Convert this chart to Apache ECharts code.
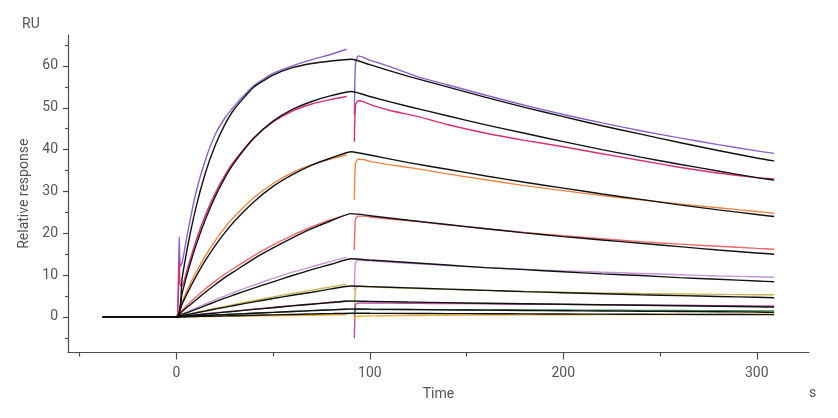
<!DOCTYPE html>
<html lang="en">
<head>
    <meta charset="UTF-8">
    <title>Sensorgram</title>
    <script src="https://cdn.jsdelivr.net/npm/echarts@6/dist/echarts.min.js"></script>
    <style type="text/css">
        html, body { margin: 0; padding: 0; background: #fff; }
        #chart { width: 838px; height: 418px; }
    </style>
</head>
<body>
<div id="chart"></div>
<script type="text/javascript">
    // time points (s)
    var tFit = [-38, 0, 3, 6, 10, 15, 20, 25, 30, 40, 50, 60, 70, 80, 90.5, 100, 120, 140, 160, 180, 200, 220, 240, 260, 280, 300, 309];
    var tAsso = [-38, 0, 1, 1.5, 2, 3, 6, 10, 15, 20, 25, 30, 40, 50, 60, 70, 80, 88];
    var tDiss = [92, 92.6, 94, 97, 100, 110, 125, 140, 160, 180, 200, 220, 240, 260, 280, 300, 309];

    // fitted curves (black), RU
    var fit1 = [0, 0, 9.3, 17.2, 25.9, 34.4, 40.9, 45.9, 49.7, 54.9, 57.8, 59.6, 60.6, 61.2, 61.6, 60.3, 57.5, 55.0, 52.5, 50.1, 47.9, 45.7, 43.7, 41.7, 39.8, 38.0, 37.3];
    var fit2 = [0, 0, 5.7, 10.9, 16.9, 23.3, 28.7, 33.2, 36.9, 42.7, 46.8, 49.6, 51.5, 52.9, 53.9, 52.7, 50.3, 48.1, 45.9, 43.9, 41.9, 40.0, 38.2, 36.5, 34.9, 33.3, 32.7];
    var fit3 = [0, 0, 3.1, 6.0, 9.5, 13.5, 17.0, 20.1, 22.9, 27.5, 31.2, 34.0, 36.3, 38.0, 39.5, 38.7, 36.9, 35.3, 33.7, 32.2, 30.8, 29.4, 28.1, 26.8, 25.6, 24.5, 24.0];
    var fit4 = [0, 0, 1.3, 2.5, 4.0, 5.9, 7.7, 9.4, 10.9, 13.9, 16.5, 18.9, 21.1, 23.0, 24.7, 24.2, 23.1, 22.1, 21.1, 20.1, 19.2, 18.4, 17.6, 16.8, 16.0, 15.3, 15.0];
    var fit5 = [0, 0, 0.6, 1.1, 1.8, 2.7, 3.6, 4.5, 5.3, 6.9, 8.4, 9.9, 11.3, 12.6, 13.9, 13.6, 13.0, 12.4, 11.8, 11.3, 10.8, 10.3, 9.9, 9.4, 9.0, 8.6, 8.4];
    var fit6 = [0, 0, 0.3, 0.6, 0.95, 1.4, 1.9, 2.3, 2.75, 3.6, 4.4, 5.2, 5.9, 6.7, 7.4, 7.25, 6.95, 6.65, 6.35, 6.05, 5.8, 5.55, 5.3, 5.1, 4.9, 4.7, 4.6];
    var fit7 = [0, 0, 0.15, 0.3, 0.45, 0.7, 0.9, 1.15, 1.35, 1.8, 2.2, 2.65, 3.05, 3.45, 3.8, 3.72, 3.56, 3.42, 3.28, 3.15, 3.02, 2.9, 2.78, 2.66, 2.54, 2.42, 2.36];
    var fit8 = [0, 0, 0.07, 0.14, 0.23, 0.34, 0.45, 0.56, 0.67, 0.88, 1.09, 1.3, 1.5, 1.7, 1.9, 1.86, 1.78, 1.7, 1.62, 1.55, 1.48, 1.42, 1.35, 1.29, 1.23, 1.17, 1.1];
    var fit9 = [0, 0, 0.03, 0.06, 0.1, 0.15, 0.2, 0.25, 0.3, 0.4, 0.5, 0.6, 0.7, 0.8, 0.9, 0.88, 0.84, 0.8, 0.77, 0.73, 0.7, 0.67, 0.64, 0.61, 0.58, 0.56, 0.55];

    // measured curves, association phase
    var asso1 = [0, 0, 8, 19.2, 12, 13, 20.5, 29.5, 37.5, 43.5, 47.5, 50.4, 55.3, 58.2, 60.0, 61.5, 62.8, 64.0];
    var asso2 = [0, 0, 5, 13.2, 7.5, 7.5, 12, 18, 24.3, 29.5, 33.8, 37.3, 42.8, 46.6, 49.2, 50.9, 52.0, 52.7];
    var asso3 = [0, 0, 1.2, 1.8, 2.3, 3.6, 6.8, 10.5, 14.6, 18.2, 21.3, 24.0, 28.5, 31.9, 34.5, 36.4, 37.8, 38.7];
    var asso4 = [0, 0, 0.5, 0.75, 1.0, 1.6, 3.0, 4.7, 6.7, 8.5, 10.2, 11.7, 14.6, 17.2, 19.5, 21.5, 23.3, 24.4];
    var asso5 = [0, 0, 0.2, 0.35, 0.45, 0.7, 1.3, 2.1, 3.1, 4.1, 5.0, 5.9, 7.6, 9.2, 10.7, 12.0, 13.3, 14.3];
    var asso6 = [0, 0, 0.1, 0.15, 0.2, 0.3, 0.65, 1.05, 1.55, 2.05, 2.5, 3.0, 3.9, 4.8, 5.6, 6.4, 7.2, 7.8];
    var asso7 = [0, 0, 0.05, 0.07, 0.1, 0.15, 0.3, 0.5, 0.75, 1.0, 1.2, 1.4, 1.85, 2.3, 2.7, 3.1, 3.5, 3.8];
    var asso8 = [0, 0, 0.02, 0.04, 0.06, 0.08, 0.15, 0.25, 0.36, 0.47, 0.58, 0.69, 0.9, 1.1, 1.3, 1.5, 1.7, 1.85];
    var asso9 = [0, 0, 0, 0, 0, 0.02, 0.04, 0.06, 0.09, 0.12, 0.15, 0.18, 0.24, 0.3, 0.36, 0.42, 0.48, 0.52];

    // measured curves, dissociation phase
    var diss1 = [48.3, 60.5, 62.4, 62.0, 61.4, 59.9, 57.4, 55.5, 53.0, 50.6, 48.4, 46.4, 44.5, 42.8, 41.2, 39.7, 39.1];
    var diss2 = [41.9, 50.5, 51.7, 51.4, 50.8, 49.4, 47.9, 46.0, 43.9, 42.2, 40.7, 39.0, 37.4, 35.8, 34.4, 33.3, 33.0];
    var diss3 = [28.0, 36.8, 37.7, 37.6, 37.2, 36.4, 35.4, 34.2, 32.8, 31.4, 30.2, 29.0, 28.0, 27.0, 26.1, 25.2, 24.8];
    var diss4 = [16.0, 23.4, 24.1, 24.1, 23.9, 23.4, 22.8, 22.0, 21.1, 20.2, 19.4, 18.7, 18.0, 17.4, 16.9, 16.4, 16.2];
    var diss5 = [6.5, 13.0, 13.6, 13.5, 13.4, 13.1, 12.7, 12.3, 11.8, 11.4, 11.0, 10.7, 10.4, 10.1, 9.8, 9.6, 9.5];
    var diss6 = [-0.7, 6.6, 7.3, 7.3, 7.2, 7.0, 6.8, 6.6, 6.35, 6.1, 5.9, 5.75, 5.6, 5.5, 5.4, 5.3, 5.3];
    var diss7 = [-5.1, 2.9, 3.3, 3.35, 3.35, 3.3, 3.25, 3.2, 3.15, 3.05, 3.0, 2.9, 2.85, 2.8, 2.7, 2.65, 2.6];
    var diss8 = [1.0, 1.7, 1.8, 1.8, 1.8, 1.78, 1.75, 1.72, 1.7, 1.67, 1.65, 1.6, 1.57, 1.53, 1.5, 1.45, 1.43];
    var diss9 = [-0.5, 0.1, 0.15, 0.2, 0.25, 0.3, 0.35, 0.4, 0.45, 0.5, 0.52, 0.55, 0.58, 0.6, 0.62, 0.64, 0.65];

    var colors = ['#8e5fc8', '#dc2d6e', '#ee8544', '#f06868', '#c595d8', '#cdb452', '#b9509c', '#3a8a52', '#eeae3c'];

    // axis ticks
    var xMajor = [0, 100, 200, 300];
    var xMinor = [-50, 50, 150, 250];
    var yMajor = [0, 10, 20, 30, 40, 50, 60];
    var yMinor = [-5, 5, 15, 25, 35, 45, 55, 65];

    var fits = [fit1, fit2, fit3, fit4, fit5, fit6, fit7, fit8, fit9];
    var assos = [asso1, asso2, asso3, asso4, asso5, asso6, asso7, asso8, asso9];
    var disss = [diss1, diss2, diss3, diss4, diss5, diss6, diss7, diss8, diss9];

    function zip(t, v) {
        var out = [];
        for (var i = 0; i < t.length; i++) {
            out.push([t[i], v[i]]);
        }
        return out;
    }

    var series = [];
    // measured first, fit drawn on top
    for (var i = 0; i < assos.length; i++) {
        var d = zip(tAsso, assos[i]);
        d.push([90, null]);
        d = d.concat(zip(tDiss, disss[i]));
        series.push({
            type: 'line',
            data: d,
            symbol: 'none',
            connectNulls: false,
            smooth: 0.2,
            lineStyle: {color: colors[i], width: 1.4},
            z: 2
        });
    }
    for (var j = 0; j < fits.length; j++) {
        series.push({
            type: 'line',
            data: zip(tFit, fits[j]),
            symbol: 'none',
            smooth: 0.2,
            lineStyle: {color: '#111', width: 1.4},
            z: 3
        });
    }

    var axisColor = '#4d4d4d';
    var textColor = '#555';
    var font = 'Roboto, "Noto Sans", sans-serif';

    var chart = echarts.init(document.getElementById('chart'));
    chart.setOption({
        animation: false,
        grid: {left: 68, right: 29, top: 35, bottom: 65.5},
        xAxis: [{
            type: 'value',
            min: -56,
            max: 327,
            name: 'Time',
            nameLocation: 'middle',
            nameGap: 35,
            nameTextStyle: {color: textColor, fontSize: 14, fontFamily: font},
            axisLine: {onZero: false, lineStyle: {color: axisColor, width: 1.2}},
            axisTick: {customValues: xMajor, length: 7, lineStyle: {color: axisColor, width: 1.2}},
            axisLabel: {customValues: xMajor, color: textColor, fontSize: 14, fontFamily: font, margin: 14},
            splitLine: {show: false}
        }, {
            type: 'value',
            position: 'bottom',
            min: -56,
            max: 327,
            axisLine: {show: false, onZero: false},
            axisTick: {customValues: xMinor, length: 4, lineStyle: {color: axisColor, width: 1.2}},
            axisLabel: {show: false},
            splitLine: {show: false}
        }],
        yAxis: [{
            type: 'value',
            min: -8.5,
            max: 67.4,
            name: 'Relative response',
            nameLocation: 'middle',
            nameGap: 32,
            nameTextStyle: {color: textColor, fontSize: 14, fontFamily: font},
            axisLine: {show: true, onZero: false, lineStyle: {color: axisColor, width: 1.2}},
            axisTick: {show: true, customValues: yMajor, length: 5, lineStyle: {color: axisColor, width: 1.2}},
            axisLabel: {customValues: yMajor, color: textColor, fontSize: 14, fontFamily: font, margin: 10},
            splitLine: {show: false}
        }, {
            type: 'value',
            position: 'left',
            min: -8.5,
            max: 67.4,
            axisLine: {show: false, onZero: false},
            axisTick: {show: true, customValues: yMinor, length: 3, lineStyle: {color: axisColor, width: 1.2}},
            axisLabel: {show: false},
            splitLine: {show: false}
        }],
        graphic: [{
            type: 'text',
            left: 22,
            top: 17,
            style: {text: 'RU', fill: textColor, font: '14px ' + font}
        }, {
            type: 'text',
            left: 809,
            top: 386,
            style: {text: 's', fill: textColor, font: '14px ' + font}
        }],
        series: series
    });
</script>
</body>
</html>
